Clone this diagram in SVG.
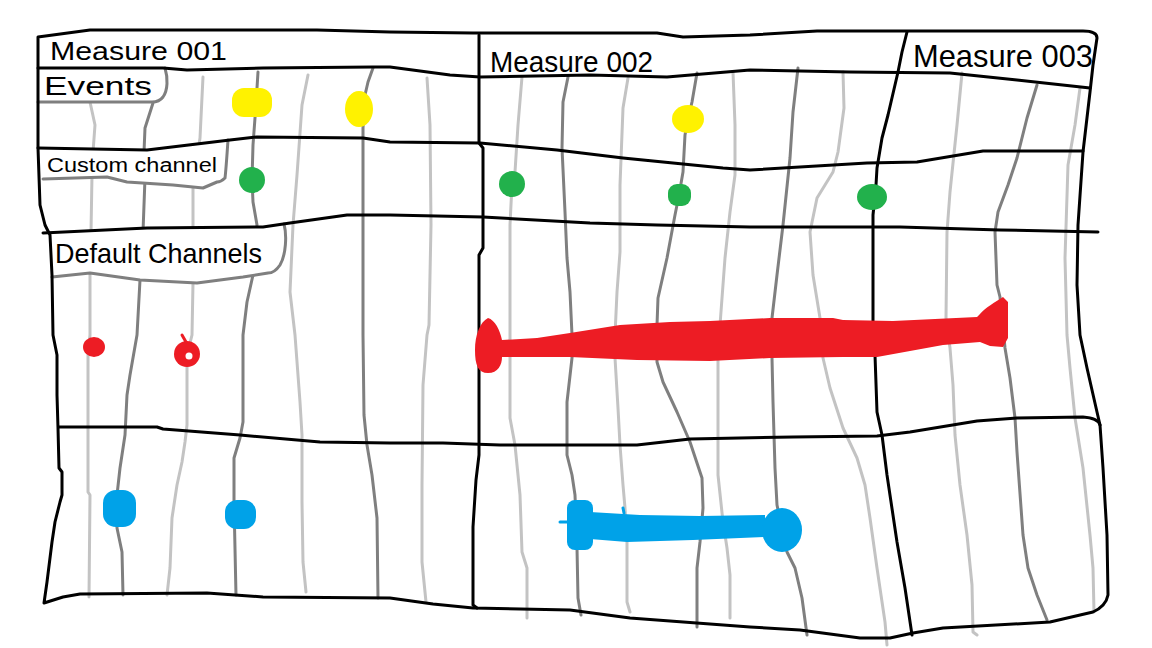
<svg xmlns="http://www.w3.org/2000/svg" width="1152" height="648" viewBox="0 0 1152 648">
  <style>
    .blk { fill: none; stroke: #000000; stroke-width: 3; stroke-linejoin: round; stroke-linecap: round; }
    .lg { fill: none; stroke: #c3c3c3; stroke-width: 3; stroke-linejoin: round; stroke-linecap: round; }
    .dg { fill: none; stroke: #7f7f7f; stroke-width: 3; stroke-linejoin: round; stroke-linecap: round; }
    .lblfill { fill: #ffffff; stroke: none; }
    .lbledge { fill: none; stroke: #7f7f7f; stroke-width: 3; stroke-linejoin: round; stroke-linecap: round; }
    .txt { font-family: "Liberation Sans", Arial, sans-serif; fill: #000000; }
    .yel { fill: #fff200; }
    .grn { fill: #22b14c; }
    .red { fill: #ed1c24; }
    .blu { fill: #00a2e8; }
  </style>
  <rect x="0" y="0" width="1152" height="648" fill="#ffffff"/>

  <!-- beat lines -->
  <g id="beat-lines">
    <path class="lg" d="M 90,102 L 95,125 L 93,152 L 92,175 L 91,232 L 90,275 L 90,335 L 88,355 L 88,492 L 90,495 L 89,597"/>
    <path class="dg" d="M 153,103 L 145,128 L 144,152 L 145,178 L 143,232 L 140,280 L 137,335 L 130,375 L 127,395 L 125,435 L 120,468 L 117,495 L 117,528 L 122,552 L 123,595"/>
    <path class="lg" d="M 203,77 L 200,138 L 193,185 L 193,227 L 193,283 L 192,335 L 187,355 L 187,425 L 185,442 L 182,462 L 177,485 L 172,518 L 170,568 L 167,595"/>
    <path class="dg" d="M 258,72 L 257,88 L 255,118 L 253,145 L 252,180 L 253,202 L 257,225 L 253,275 L 247,302 L 243,335 L 243,422 L 240,438 L 234,458 L 234,502 L 236,595"/>
    <path class="lg" d="M 308,75 L 302,105 L 297,175 L 293,225 L 290,292 L 295,335 L 300,402 L 302,435 L 302,502 L 303,562 L 306,592"/>
    <path class="dg" d="M 373,68 L 368,82 L 365,95 L 363,128 L 363,212 L 363,335 L 364,415 L 367,445 L 372,475 L 377,518 L 378,598"/>
    <path class="lg" d="M 427,78 L 430,125 L 431,225 L 429,325 L 427,335 L 423,385 L 422,485 L 422,562 L 426,602"/>
    <path class="lg" d="M 522,77 L 518,125 L 515,172 L 512,184 L 510,225 L 510,335 L 510,418 L 515,445 L 520,495 L 522,552 L 527,568 L 527,618"/>
    <path class="dg" d="M 568,77 L 563,102 L 562,148 L 565,212 L 567,258 L 570,292 L 572,335 L 572,358 L 567,402 L 567,455 L 572,475 L 575,495 L 577,548 L 578,598 L 581,615"/>
    <path class="lg" d="M 628,78 L 623,108 L 620,185 L 620,252 L 617,292 L 615,335 L 615,358 L 618,408 L 620,445 L 623,485 L 625,508 L 627,542 L 627,602 L 630,612"/>
    <path class="dg" d="M 697,73 L 692,102 L 688,119 L 685,135 L 683,172 L 679,195 L 675,215 L 667,258 L 658,298 L 657,325 L 657,362 L 663,382 L 677,412 L 690,442 L 702,478 L 703,508 L 700,542 L 697,568 L 697,627"/>
    <path class="lg" d="M 733,72 L 735,125 L 735,175 L 730,212 L 725,258 L 720,325 L 718,358 L 718,475 L 723,522 L 727,548 L 730,575 L 730,618"/>
    <path class="dg" d="M 798,68 L 793,112 L 790,158 L 783,225 L 777,275 L 772,318 L 772,358 L 773,402 L 775,468 L 777,505 L 787,552 L 795,568 L 802,598 L 807,635"/>
    <path class="lg" d="M 843,72 L 844,108 L 838,152 L 833,172 L 817,198 L 810,232 L 813,275 L 820,318 L 823,358 L 830,388 L 843,428 L 857,458 L 865,485 L 870,518 L 877,568 L 885,622 L 887,645"/>
    <path class="lg" d="M 962,73 L 957,125 L 950,192 L 947,232 L 946,318 L 950,348 L 953,385 L 955,435 L 960,485 L 967,535 L 972,585 L 973,632 L 977,635"/>
    <path class="dg" d="M 1037,85 L 1027,118 L 1017,158 L 1008,185 L 998,212 L 995,232 L 997,285 L 1000,297 L 1005,348 L 1010,378 L 1015,418 L 1017,452 L 1023,535 L 1028,568 L 1037,595 L 1047,620"/>
    <path class="lg" d="M 1080,88 L 1075,125 L 1068,165 L 1065,258 L 1067,335 L 1070,368 L 1075,418 L 1083,468 L 1090,535 L 1093,568 L 1094,612"/>
  </g>

  <!-- track label tabs -->
  <g id="label-events">
    <path class="lblfill" d="M 38,68 L 165,68 C 168,78 168,90 163,97 C 160,101 157,102 152,102 L 38,102 Z"/>
    <path class="lbledge" d="M 165,68 C 168,78 168,90 163,97 C 160,101 157,102 152,102 L 38,102"/>
    <text class="txt" x="44" y="95" font-size="26" textLength="108" lengthAdjust="spacingAndGlyphs">Events</text>
  </g>
  <g id="label-custom">
    <path class="lblfill" d="M 40,150 L 147,150 L 228,140 C 227,155 226,170 225,178 C 222,181 219,182 217,182 L 203,188 L 173,185 L 127,182 L 107,177 L 43,179 Z"/>
    <path class="lbledge" d="M 228,140 C 227,155 226,170 225,178 C 222,181 219,182 217,182 L 203,188 L 173,185 L 127,182 L 107,177 L 43,179"/>
    <text class="txt" x="47" y="172" font-size="20" textLength="170" lengthAdjust="spacingAndGlyphs">Custom channel</text>
  </g>
  <g id="label-default">
    <path class="lblfill" d="M 50,234 L 147,228 L 263,227 L 284,224 C 287,235 286,255 280,265 C 276,271 272,273 268,273 L 243,277 L 197,283 L 140,280 L 90,273 L 52,277 Z"/>
    <path class="lbledge" d="M 284,224 C 287,235 286,255 280,265 C 276,271 272,273 268,273 L 243,277 L 197,283 L 140,280 L 90,273 L 52,277"/>
    <text class="txt" x="55" y="263" font-size="28" textLength="207" lengthAdjust="spacingAndGlyphs">Default Channels</text>
  </g>

  <!-- grid / frame -->
  <g id="frame">
    <path class="blk" d="M 38,37 L 90,30 L 317,30 L 390,32 L 473,33 L 657,33 L 683,37 L 750,35 L 817,31 L 1083,31 Q 1097,31 1097,38 L 1093,65 L 1090,92 L 1083,152 L 1078,225 L 1077,285 L 1080,335 L 1087,368 L 1097,412 L 1100,425 L 1103,468 L 1107,535 L 1108,595 Q 1106,606 1093,612 L 1050,622 L 943,628 L 913,633 L 890,638 L 860,638 L 800,630 L 750,627 L 630,618 L 570,610 L 473,608 L 433,604 L 390,598 L 263,597 L 207,593 L 80,594 L 63,597 L 44,603 L 47,582 L 52,542 L 55,522 L 60,502 L 62,495 L 62,472 L 59,468 L 58,428 L 57,395 L 57,355 L 53,335 L 52,275 L 50,235 L 45,225 L 40,205 L 38,148 Z"/>
    <path class="blk" d="M 38,68 L 163,68 L 187,70 L 263,68 L 373,67 L 390,67 L 450,75 L 480,77 L 590,75 L 667,77 L 750,70 L 850,72 L 950,73 L 1017,80 L 1090,88"/>
    <path class="blk" d="M 38,148 L 147,150 L 230,140 L 257,137 L 363,138 L 390,142 L 480,143 L 557,150 L 623,158 L 723,168 L 750,170 L 867,163 L 917,162 L 983,151 L 1083,151"/>
    <path class="blk" d="M 43,233 L 147,228 L 263,227 L 290,223 L 347,215 L 390,215 L 483,217 L 590,223 L 657,225 L 750,227 L 900,227 L 1000,230 L 1098,232"/>
    <path class="blk" d="M 59,427 L 157,427 L 163,429 L 240,435 L 320,442 L 390,443 L 443,443 L 500,445 L 637,445 L 690,439 L 793,437 L 877,436 L 910,432 L 977,421 L 1017,418 L 1083,417 Q 1098,418 1100,425"/>
    <path class="blk" d="M 479,35 L 479,143 L 483,148 L 483,248 L 479,255 L 479,455 L 476,480 L 473,527 L 473,605 L 477,608"/>
    <path class="blk" d="M 907,32 L 902,52 L 898,72 L 888,115 L 882,138 L 877,168 L 876,185 L 873,215 L 873,325 L 875,355 L 877,412 L 882,435 L 887,475 L 897,542 L 905,588 L 912,635"/>
  </g>

  <!-- measure headings -->
  <g id="measure-001"><text class="txt" x="50" y="60" font-size="25" textLength="177" lengthAdjust="spacingAndGlyphs">Measure 001</text></g>
  <g id="measure-002"><text class="txt" x="490" y="72" font-size="30" textLength="163" lengthAdjust="spacingAndGlyphs">Measure 002</text></g>
  <g id="measure-003"><text class="txt" x="913" y="67" font-size="32" textLength="180" lengthAdjust="spacingAndGlyphs">Measure 003</text></g>

  <!-- events (yellow) -->
  <g id="events">
    <rect class="yel" x="232" y="88" width="40" height="29" rx="12" ry="12"/>
    <ellipse class="yel" cx="359" cy="109" rx="14" ry="18"/>
    <ellipse class="yel" cx="688" cy="119" rx="16" ry="14"/>
  </g>

  <!-- custom channel (green) -->
  <g id="custom-notes">
    <circle class="grn" cx="252" cy="180" r="13"/>
    <circle class="grn" cx="512" cy="184" r="13"/>
    <rect class="grn" x="668" y="184" width="23" height="22" rx="9" ry="9"/>
    <ellipse class="grn" cx="872" cy="197" rx="15" ry="13"/>
  </g>

  <!-- default channel 1 (red) -->
  <g id="red-notes">
    <ellipse class="red" cx="94" cy="347" rx="11" ry="10"/>
    <circle class="red" cx="187" cy="354" r="13"/>
    <circle cx="189" cy="356" r="3.5" fill="#ffffff"/>
    <path d="M 182,335 L 186,342" fill="none" stroke="#ed1c24" stroke-width="3" stroke-linecap="round"/>
    <path class="red" d="M 488,318 C 480,322 475,335 475,350 C 475,365 478,373 488,373 C 498,373 502,365 502,357 L 570,357 L 637,360 L 710,361 L 770,358 L 843,357 L 877,357 L 943,345 L 980,342 L 990,346 L 1003,347 L 1008,338 L 1008,302 L 1003,297 C 995,302 985,308 980,314 L 977,317 L 893,321 L 843,320 L 833,318 L 770,318 L 710,321 L 670,322 L 620,325 L 570,333 L 537,338 L 502,340 C 500,330 495,320 488,318 Z"/>
  </g>

  <!-- default channel 2 (blue) -->
  <g id="blue-notes">
    <rect class="blu" x="103" y="490" width="33" height="37" rx="13" ry="13"/>
    <rect class="blu" x="225" y="500" width="31" height="29" rx="12" ry="12"/>
    <rect class="blu" x="567" y="500" width="26" height="50" rx="8" ry="8"/>
    <path class="blu" d="M 590,512 L 640,515 L 700,516 L 765,515 L 765,537 L 693,540 L 627,542 L 590,539 Z"/>
    <path d="M 623,508 L 624,513" fill="none" stroke="#00a2e8" stroke-width="3" stroke-linecap="round"/>
    <ellipse class="blu" cx="782" cy="530" rx="20" ry="22"/>
    <path d="M 560,522 L 568,522" fill="none" stroke="#00a2e8" stroke-width="3" stroke-linecap="round"/>
  </g>
</svg>
